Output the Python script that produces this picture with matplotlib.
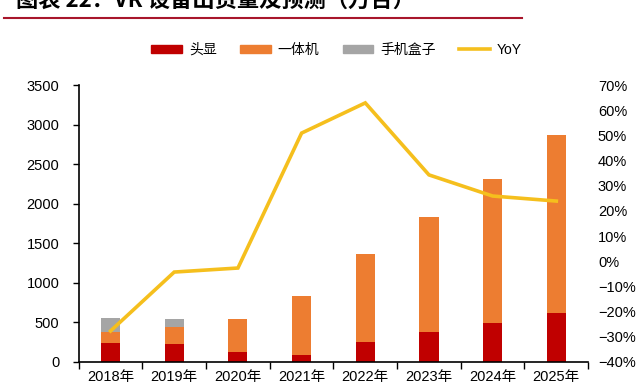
import matplotlib.pyplot as plt
import numpy as np
from matplotlib.patches import Patch
from matplotlib.lines import Line2D
from matplotlib.ticker import FuncFormatter

plt.rcParams['font.family'] = ['Liberation Sans', 'Noto Sans CJK SC', 'DejaVu Sans']
plt.rcParams['axes.unicode_minus'] = True

years = ['2018年', '2019年', '2020年', '2021年', '2022年', '2023年', '2024年', '2025年']
headset = [240, 228, 127, 89, 253, 380, 494, 620]
all_in_one = [140, 215, 418, 741, 1117, 1455, 1816, 2254]
phone_box = [177, 102, 0, 0, 0, 0, 0, 0]
yoy = [-27.7, -4.3, -2.7, 50.9, 62.9, 34.3, 25.9, 23.9]

c_red = '#C00000'
c_orange = '#ED7D31'
c_gray = '#A5A5A5'
c_yellow = '#F5BF1D'

fig = plt.figure(figsize=(6.4, 3.9), dpi=100)
ax = fig.add_axes([0.123, 0.072, 0.796, 0.710])

x = np.arange(len(years))
w = 0.3
ax.bar(x, headset, w, color=c_red)
ax.bar(x, all_in_one, w, bottom=headset, color=c_orange)
bot2 = np.array(headset) + np.array(all_in_one)
ax.bar(x, phone_box, w, bottom=bot2, color=c_gray)

ax.set_xlim(-0.5, len(years) - 0.5)
ax.set_ylim(0, 3500)
ax.set_yticks(range(0, 3501, 500))
ax.set_xticks(x)
ax.set_xticklabels(years, fontsize=10.5)
ax.set_xticks(np.arange(-0.5, len(years), 1), minor=True)
ax.tick_params(axis='x', which='major', length=0, pad=6)
ax.tick_params(axis='x', which='minor', length=5, width=1, direction='out')
ax.tick_params(axis='y', length=4, width=1, labelsize=10.5, pad=10)
for s in ['top', 'right']:
    ax.spines[s].set_visible(False)
ax.spines['left'].set_linewidth(1.2)
ax.spines['bottom'].set_linewidth(1.2)

ax2 = ax.twinx()
ax2.plot(x, yoy, color=c_yellow, lw=2.6, solid_joinstyle='miter')
ax2.set_ylim(-40, 70)
ax2.set_yticks(range(-40, 71, 10))
ax2.yaxis.set_major_formatter(FuncFormatter(lambda v, p: f'{v:.0f}%'.replace('-', '\u2212')))
ax2.tick_params(axis='y', length=0, labelsize=10.5, pad=7)
for s in ['top', 'right', 'left', 'bottom']:
    ax2.spines[s].set_visible(False)

handles = [Patch(color=c_red), Patch(color=c_orange), Patch(color=c_gray),
           Line2D([], [], color=c_yellow, lw=2.6)]
labels = ['头显', '一体机', '手机盒子', 'YoY']
fig.legend(handles, labels, loc='center', bbox_to_anchor=(0.526, 0.872), ncol=4,
           frameon=False, fontsize=10, handlelength=2.2, handleheight=0.5,
           columnspacing=1.7, handletextpad=0.5)

# partially cut title and its rule at the top
fig.text(0.025, 1 - 7 / 390, '图表 22：VR 设备出货量及预测（万台）', fontsize=16,
         fontweight='bold', va='baseline', ha='left',
         family=['Noto Sans CJK SC', 'DejaVu Sans'])
fig.add_artist(Line2D([0.006, 0.815], [1 - 18 / 390, 1 - 18 / 390],
                      transform=fig.transFigure, color='#A8162B', lw=1.5))

fig.savefig('out.png', dpi=100)
